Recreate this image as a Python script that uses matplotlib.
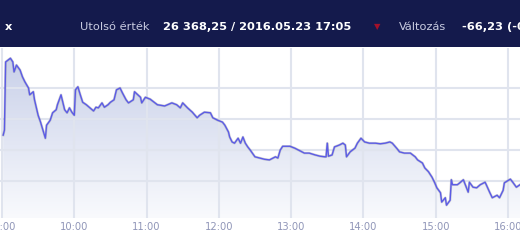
import matplotlib
matplotlib.use("Agg")
import matplotlib.pyplot as plt
import numpy as np
from matplotlib.patches import Rectangle
from matplotlib.colors import LinearSegmentedColormap

# BUX intraday, 2016.05.23
times = [
    "09:01", "09:02", "09:03", "09:05", "09:07", "09:09", "09:10", "09:12", "09:15", "09:17",
    "09:19", "09:22", "09:23", "09:26", "09:27", "09:30", "09:32", "09:34", "09:36", "09:37",
    "09:40", "09:42", "09:45", "09:46", "09:49", "09:51", "09:52", "09:54", "09:56", "09:58",
    "10:00", "10:01", "10:03", "10:05", "10:07", "10:10", "10:13", "10:16", "10:18", "10:20",
    "10:23", "10:25", "10:28", "10:30", "10:33", "10:35", "10:38", "10:40", "10:43", "10:45",
    "10:49", "10:50", "10:55", "10:56", "10:59", "11:03", "11:07", "11:09", "11:15", "11:21",
    "11:25", "11:28", "11:30", "11:34", "11:38", "11:42", "11:44", "11:48", "11:53", "11:55",
    "11:59", "12:03", "12:05", "12:08", "12:09", "12:11", "12:13", "12:16", "12:18", "12:20",
    "12:22", "12:24", "12:26", "12:30", "12:34", "12:38", "12:42", "12:47", "12:49", "12:51",
    "12:53", "12:59", "13:03", "13:06", "13:09", "13:11", "13:15", "13:20", "13:24", "13:28",
    "13:29", "13:30", "13:31", "13:34", "13:36", "13:40", "13:43", "13:45", "13:46", "13:49",
    "13:53", "13:55", "13:58", "14:01", "14:05", "14:10", "14:14", "14:18", "14:22", "14:24",
    "14:28", "14:30", "14:34", "14:39", "14:43", "14:45", "14:49", "14:51", "14:54", "14:57",
    "14:59", "15:01", "15:04", "15:05", "15:08", "15:09", "15:12", "15:13", "15:14", "15:18",
    "15:20", "15:23", "15:24", "15:27", "15:28", "15:31", "15:34", "15:37", "15:41", "15:42",
    "15:45", "15:47", "15:51", "15:53", "15:56", "15:57", "16:02", "16:04", "16:07", "16:10",
]
values = [
    26424, 26432, 26542, 26545, 26548, 26542, 26526, 26537, 26529, 26518,
    26510, 26500, 26489, 26494, 26481, 26456, 26445, 26432, 26419, 26440,
    26448, 26460, 26465, 26473, 26489, 26473, 26465, 26460, 26468, 26461,
    26456, 26497, 26502, 26489, 26477, 26473, 26468, 26463, 26469, 26468,
    26476, 26469, 26473, 26477, 26481, 26497, 26500, 26492, 26481, 26476,
    26481, 26494, 26485, 26476, 26485, 26482, 26476, 26473, 26471, 26476,
    26473, 26468, 26476, 26468, 26461, 26452, 26456, 26461, 26460, 26452,
    26448, 26445, 26440, 26429, 26421, 26413, 26411, 26419, 26411, 26421,
    26411, 26405, 26400, 26389, 26387, 26385, 26384, 26389, 26387, 26400,
    26406, 26406, 26403, 26400, 26397, 26395, 26395, 26392, 26390, 26389,
    26389, 26411, 26390, 26392, 26405, 26408, 26411, 26408, 26389, 26397,
    26403, 26411, 26419, 26413, 26411, 26411, 26410, 26411, 26413, 26411,
    26402, 26397, 26395, 26395, 26389, 26384, 26379, 26371, 26365, 26356,
    26348, 26339, 26331, 26316, 26323, 26311, 26319, 26352, 26344, 26344,
    26347, 26352, 26347, 26332, 26348, 26340, 26339, 26344, 26348, 26344,
    26331, 26323, 26327, 26323, 26335, 26347, 26353, 26348, 26340, 26344,
]
hour_labels = ["09:00", "10:00", "11:00", "12:00", "13:00", "14:00", "15:00", "16:00"]
grid_levels = [26350, 26400, 26450, 26500]


def to_min(t):
    h, m = t.split(":")
    return (int(h) - 9) * 60 + int(m)


x = np.array([to_min(t) for t in times])
y = np.array(values)

W, H = 520, 245
fig = plt.figure(figsize=(W / 100, H / 100), dpi=100)
fig.patch.set_facecolor("white")

# header band
fig.patches.append(Rectangle((0, 1 - 47 / H), 1, 47 / H, transform=fig.transFigure,
                             facecolor="#141a4c", edgecolor="none", zorder=0))
ty = 1 - 27 / H
fs = 8.2
fig.text(5 / W, ty, "x", color="white", fontsize=fs, fontweight="bold", va="center")
fig.text(80 / W, ty, "Utolsó érték", color="#c8cbe0", fontsize=fs, va="center")
fig.text(163 / W, ty, "26 368,25 / 2016.05.23 17:05", color="white", fontsize=fs,
         fontweight="bold", va="center")
fig.text(377 / W, ty, "▼", color="#a3102a", fontsize=6, va="center", ha="center")
fig.text(399 / W, ty, "Változás", color="#c8cbe0", fontsize=fs, va="center")
fig.text(462 / W, ty, "-66,23 (-0,25%)", color="white", fontsize=fs,
         fontweight="bold", va="center")

# plot area: px 0..520 horizontally, 48..218 vertically
ax = fig.add_axes([0, 1 - 218 / H, 1, (218 - 48) / H])
ax.set_xlim(-1.66, 430)
ax.set_ylim(26290.3, 26564.5)

# gradient fill under the line
poly = ax.fill_between(x, y, 26290.3, facecolor="none", edgecolor="none")
cmap = LinearSegmentedColormap.from_list("fill", ["#f9fafd", "#c6cee8"])
grad = np.linspace(0, 1, 256).reshape(-1, 1)
img = ax.imshow(grad, cmap=cmap, aspect="auto", origin="lower",
                extent=[-1.66, 430, 26290.3, 26564.5], zorder=1)
img.set_clip_path(poly.get_paths()[0], transform=ax.transData)

ax.plot(x, y, color="#8a8a9a", linewidth=1.8, alpha=0.4, zorder=3)
ax.plot(x, y, color="#5b5be6", linewidth=1.0, zorder=4)

ax.set_xticks(range(0, 480, 60))
ax.set_xticklabels(hour_labels)
ax.set_yticks(grid_levels)
ax.set_yticklabels([])
ax.grid(True, color="#e0e4ee", linewidth=1.5)
for line in ax.get_xgridlines() + ax.get_ygridlines():
    line.set_zorder(2)
ax.tick_params(length=0, pad=3, labelsize=7.2, labelcolor="#9096b8")
for s in ax.spines.values():
    s.set_visible(False)
ax.set_facecolor("white")

fig.savefig("out.png", dpi=100)
